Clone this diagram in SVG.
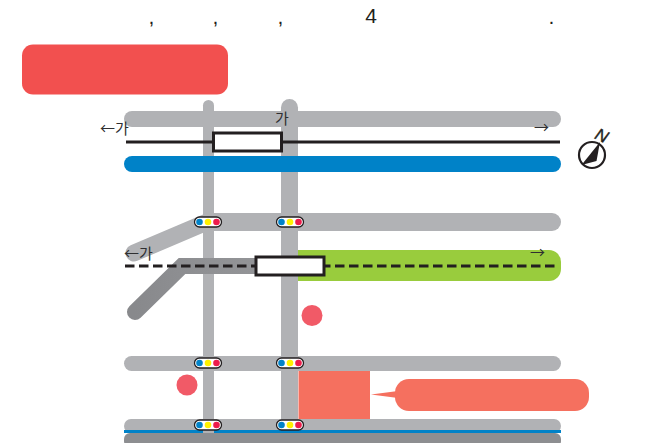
<svg xmlns="http://www.w3.org/2000/svg" width="661" height="443" viewBox="0 0 661 443">
<style>
.t{font-family:"Noto Sans CJK KR","Liberation Sans",sans-serif;fill:#2f2f31}
.a{font-family:"Liberation Sans",sans-serif;fill:#231f20}
.g{fill:#b1b2b5}
.box{fill:#fff;stroke:#231f20;stroke-width:3}
.pill{fill:#fff;stroke:#231f20;stroke-width:1.300}
.b{fill:#0082c8}.y{fill:#fff200}.r{fill:#ed1c4b}
</style>
<defs>
<g id="signal">
<rect class="pill" x="-13.500" y="-5" width="27" height="10" rx="5"/>
<circle class="b" cx="-8.500" r="3.300"/><circle class="y" r="3.300"/><circle class="r" cx="8.500" r="3.300"/>
</g>
<linearGradient id="dark" gradientUnits="userSpaceOnUse" x1="135" y1="0" x2="260" y2="0">
<stop offset="0" stop-color="#88898c"/><stop offset="0.5" stop-color="#8f9093"/><stop offset="1" stop-color="#939497"/>
</linearGradient>
</defs>
<g id="caption">
<text class="a" x="151.500" y="24" font-size="14" font-weight="bold" text-anchor="middle">,</text>
<text class="a" x="215.500" y="24" font-size="14" font-weight="bold" text-anchor="middle">,</text>
<text class="a" x="280.500" y="24" font-size="14" font-weight="bold" text-anchor="middle">,</text>
<text class="a" x="371" y="22.500" font-size="21" text-anchor="middle">4</text>
<text class="a" x="551.500" y="24" font-size="14" font-weight="bold" text-anchor="middle">.</text>
</g>
<rect id="title" x="22" y="44.500" width="206" height="50" rx="11" fill="#f2504f"/>
<g id="roads">
<rect class="g" x="124" y="111" width="437" height="16" rx="8"/>
<rect class="g" x="203" y="100" width="11" height="336" rx="5.500"/>
<rect class="g" x="281" y="99" width="17" height="336" rx="8.500"/>
<rect x="124" y="156" width="437" height="16" rx="8" fill="#0082c8"/>
<rect x="200" y="213" width="361" height="18" rx="9" class="g"/>
<path d="M134 253L207 222" stroke="#b1b2b5" stroke-width="17" stroke-linecap="round" fill="none"/>
<path d="M298 250H549a12 12 0 0 1 12 12V269a12 12 0 0 1 -12 12H298Z" fill="#99cc3d"/>
<path d="M135 312L182 266H260" stroke="url(#dark)" stroke-width="16" stroke-linecap="round" fill="none"/>
<rect class="g" x="124" y="356" width="437" height="15" rx="7.500"/>
<rect class="g" x="124" y="419" width="437" height="14" rx="7"/>
<path d="M124 431.500H203M214 431.500H561" stroke="#0082c8" stroke-width="3" fill="none"/>
<rect x="124" y="433" width="437" height="14" rx="6" fill="#8d8e91"/>
</g>
<g id="lines">
<path d="M126 142H560" stroke="#231f20" stroke-width="3" fill="none"/>
<path d="M125 266H556" stroke="#231f20" stroke-width="3" stroke-dasharray="9.500 4.500" fill="none"/>
</g>
<g id="station1"><rect class="box" x="213.500" y="133" width="68" height="18"/></g>
<g id="station2"><rect class="box" x="256" y="257" width="68" height="18"/></g>
<g id="signals">
<use href="#signal" x="208" y="222"/><use href="#signal" x="290" y="222"/>
<use href="#signal" x="208" y="363"/><use href="#signal" x="290" y="363"/>
<use href="#signal" x="208" y="425"/><use href="#signal" x="290" y="425"/>
</g>
<g id="markers">
<circle cx="312" cy="315.500" r="10.500" fill="#f15a67"/>
<circle cx="187" cy="385" r="10.500" fill="#f15a67"/>
</g>
<g id="callout">
<rect x="298.500" y="371" width="71.500" height="48" fill="#f5705f"/>
<path d="M371 394.500L398 391V398Z" fill="#f5705f"/>
<rect x="395" y="379" width="194" height="32" rx="14" fill="#f5705f"/>
</g>
<g id="labels">
<text class="t" x="100" y="134" font-size="15">←가</text>
<text class="t" x="275" y="124" font-size="15">가</text>
<text class="t" x="534" y="133" font-size="15">→</text>
<text class="t" x="124" y="259" font-size="15">←가</text>
<text class="t" x="530" y="258" font-size="15">→</text>
</g>
<g id="compass">
<circle cx="592" cy="155" r="13" fill="#fff" stroke="#231f20" stroke-width="2.200"/>
<path d="M600 142L581.500 165L596.500 161Z" fill="#231f20"/>
<text class="a" x="602" y="141.500" font-size="17" font-style="italic" stroke="#231f20" stroke-width="0.400" text-anchor="middle" transform="rotate(25 602 135)">N</text>
</g>
</svg>
